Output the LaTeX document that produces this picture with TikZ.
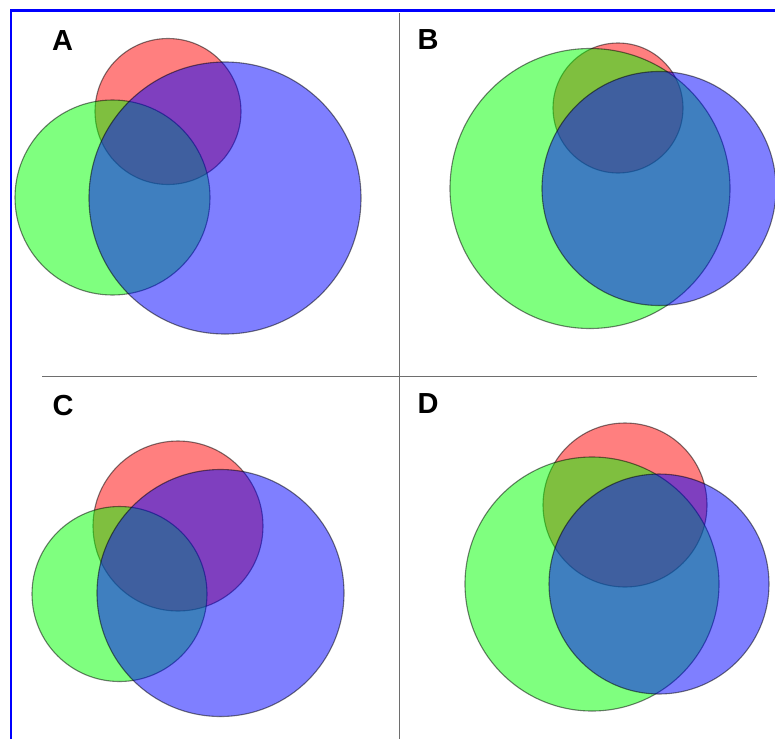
\documentclass[tikz,border=0pt]{standalone}
\usepackage{fontspec}
\setmainfont{Liberation Sans}
\begin{document}
\begin{tikzpicture}[x=1pt,y=-1pt,
  set/.style={draw=black,draw opacity=0.5,line width=1.1pt,fill opacity=0.5},
  rset/.style={set,fill={rgb,255:red,255;green,0;blue,0}},
  gset/.style={set,fill={rgb,255:red,0;green,255;blue,0}},
  bset/.style={set,fill={rgb,255:red,0;green,0;blue,255}},
  lab/.style={font=\bfseries\fontsize{29}{29}\selectfont,inner sep=0pt,anchor=center},
  divider/.style={draw={rgb,255:red,110;green,110;blue,110},line width=1.6pt},
  frame/.style={draw={rgb,255:red,0;green,0;blue,255},line width=2.6pt}]
\useasboundingbox (0,0) rectangle (775,739);
\fill[white] (0,0) rectangle (775,739);
% frame
\coordinate (f1) at (11,739);
\coordinate (f2) at (11,10.5);
\coordinate (f3) at (775,10.5);
\draw[frame] (f1) -- (f2) -- (f3);
% dividers
\coordinate (v1) at (399.5,13);
\coordinate (v2) at (399.5,739);
\coordinate (h1) at (42,376.5);
\coordinate (h2) at (757,376.5);
\draw[divider] (v1) -- (v2);
\draw[divider] (h1) -- (h2);
% Panel A
\path[rset] (168,111.5) circle (73);
\path[gset] (112.5,197.5) circle (97.5);
\path[bset] (225,198) circle (136);
% Panel B
\path[rset] (618,108) circle (65);
\path[gset] (590,188.5) circle (140);
\path[bset] (659,188.5) circle (117);
% Panel C
\path[rset] (178,526) circle (85);
\path[gset] (119.5,594) circle (87.5);
\path[bset] (220.5,593) circle (123.5);
% Panel D
\path[rset] (625,505) circle (82);
\path[gset] (592,584) circle (127);
\path[bset] (659,584) circle (110);
% labels
\node[lab] (la) at (62.5,40.5) {A};
\node[lab] (lb) at (428,40) {B};
\node[lab] (lc) at (63,405.5) {C};
\node[lab] (ld) at (428,404) {D};
\end{tikzpicture}
\end{document}
